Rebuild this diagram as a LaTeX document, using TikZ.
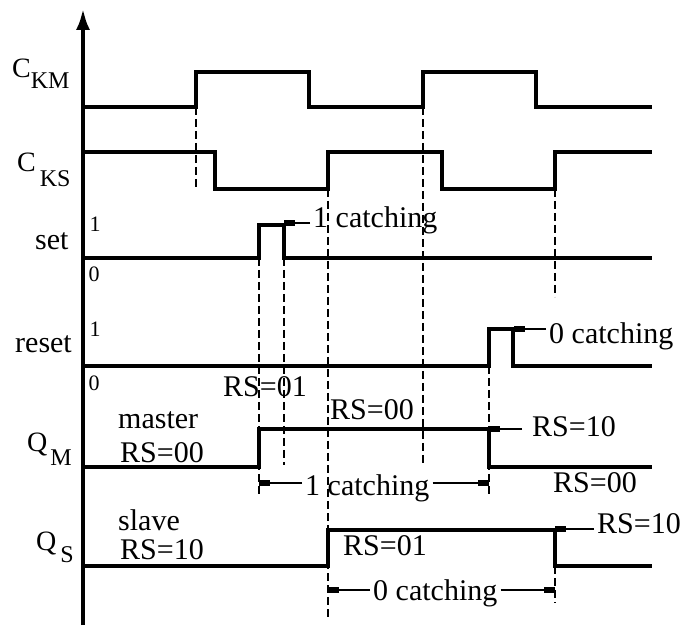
\documentclass[tikz,border=0pt]{standalone}
\usepackage{fontspec}
\setmainfont{Liberation Serif}
\usetikzlibrary{arrows.meta}
\tikzset{
  wave/.style={line width=3.2pt, line join=miter},
  axisline/.style={line width=4.5pt},
  dashline/.style={line width=2.8pt, dash pattern=on 8pt off 4pt},
  lead/.style={line width=1.5pt, -{Rectangle[length=11pt,width=6pt]}},
  lbl/.style={font=\fontsize{30}{32}\selectfont, inner ysep=0pt, inner xsep=3pt, anchor=base west},
  lvl/.style={font=\fontsize{22}{24}\selectfont, inner sep=0pt},
  sig/.style={font=\fontsize{28}{30}\selectfont, inner ysep=0pt, inner xsep=3pt, anchor=base west}
}
\begin{document}
\begin{tikzpicture}[x=1pt,y=-1pt]
\useasboundingbox (0,0) rectangle (686,628);
% axis
\coordinate (ax0) at (83,625);
\coordinate (ax1) at (83,8);
\draw[axisline,-{Latex[length=22pt,width=14pt]}] (ax0) -- (ax1);
% waveforms
\draw[wave] (83,107) -- (196,107) -- (196,72) -- (309,72) -- (309,107) -- (423,107) -- (423,72) -- (536,72) -- (536,107) -- (652,107);
\draw[wave] (83,152) -- (215,152) -- (215,189) -- (328,189) -- (328,152) -- (442,152) -- (442,189) -- (555,189) -- (555,152) -- (652,152);
\draw[wave] (83,258) -- (259,258) -- (259,225) -- (284,225) -- (284,258) -- (652,258);
\draw[wave] (83,366) -- (489,366) -- (489,329) -- (513,329) -- (513,366) -- (652,366);
\draw[wave] (83,467) -- (259,467) -- (259,429) -- (489,429) -- (489,467) -- (652,467);
\draw[wave] (83,566) -- (328,566) -- (328,530) -- (555,530) -- (555,566) -- (652,566);
% dashed guides
\draw[dashline] (196,107) -- (196,190);
\draw[dashline] (259,258) -- (259,495);
\draw[dashline] (284,258) -- (284,465);
\draw[dashline] (328,189) -- (328,617);
\draw[dashline] (423,107) -- (423,465);
\draw[dashline] (489,366) -- (489,495);
\draw[dashline] (555,189) -- (555,297);
\draw[dashline] (555,566) -- (555,603);
% signal labels
\node[sig] (ckm) at (9,78) {C\raisebox{-11pt}{\fontsize{24}{24}\selectfont KM}};
\node[sig] (cks) at (14,172) {C\hspace{4pt}\raisebox{-15pt}{\fontsize{24}{24}\selectfont KS}};
\node[lbl] (setl) at (32,250) {set};
\node[lbl] (resetl) at (12,353) {reset};
\node[sig] (qm) at (24,451) {Q\hspace{3pt}\raisebox{-14pt}{\fontsize{24}{24}\selectfont M}};
\node[sig] (qs) at (33,550) {Q\hspace{4pt}\raisebox{-13pt}{\fontsize{24}{24}\selectfont S}};
% level labels
\node[lvl] (s1) at (95,224) {1};
\node[lvl] (s0) at (94,274) {0};
\node[lvl] (r1) at (95,329) {1};
\node[lvl] (r0) at (94,383) {0};
% texts
\node[lbl] (master) at (115,429) {master};
\node[lbl] (rsm) at (117,462) {RS=00};
\node[lbl] (slave) at (115,530) {slave};
\node[lbl] (rss) at (117,559) {RS=10};
\node[lbl] (rs01a) at (220,397) {RS=01};
\node[lbl] (rs00a) at (327,420) {RS=00};
\node[lbl] (rs10a) at (529,437) {RS=10};
\node[lbl] (rs00b) at (550,493) {RS=00};
\node[lbl] (rs10b) at (594,533) {RS=10};
\node[lbl] (rs01b) at (340,555) {RS=01};
\node[lbl] (c1top) at (310,228) {1 catching};
\node[lbl] (c0top) at (546,344) {0 catching};
\node[lbl] (c1bot) at (302,495) {1 catching};
\node[lbl] (c0bot) at (370,600) {0 catching};
% marker points
\coordinate (mset) at (284,223);
\coordinate (mres) at (514,329);
\coordinate (mqm) at (489,429);
\coordinate (mqs) at (555,529);
\coordinate (d1l) at (259,483);
\coordinate (d1r) at (489,483);
\coordinate (d0l) at (328,590);
\coordinate (d0r) at (555,590);
% leaders
\draw[lead] (c1top.west |- mset) -- (mset);
\draw[lead] (c0top.west |- mres) -- (mres);
\draw[lead, shorten <=7pt] (rs10a.west |- mqm) -- (mqm);
\draw[lead] (rs10b.west |- mqs) -- (mqs);
\draw[lead] (c1bot.west |- d1l) -- (d1l);
\draw[lead] (c1bot.east |- d1r) -- (d1r);
\draw[lead] (c0bot.west |- d0l) -- (d0l);
\draw[lead] (c0bot.east |- d0r) -- (d0r);
\end{tikzpicture}
\end{document}
